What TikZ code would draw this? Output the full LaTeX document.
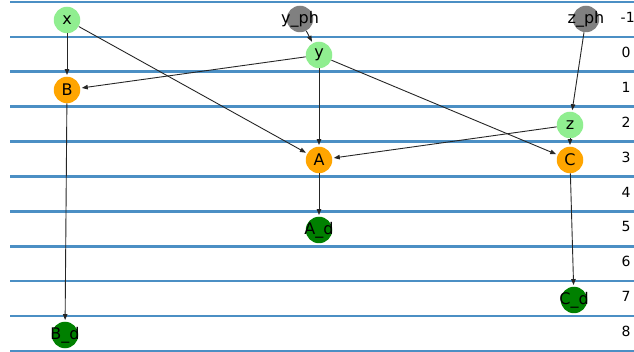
\documentclass[tikz,border=0pt]{standalone}
\usepackage{fontspec}
\setmainfont{DejaVu Sans}
\usetikzlibrary{arrows.meta}
\definecolor{layerblue}{RGB}{75,143,196}
\definecolor{lgreen}{HTML}{90EE90}
\definecolor{morange}{HTML}{FFA500}
\definecolor{mgray}{HTML}{808080}
\definecolor{dgreen}{HTML}{008000}
\newcommand\zwtext[1]{\makebox[0pt]{#1}}
\begin{document}
\begin{tikzpicture}[x=1pt,y=-1pt,
  nd/.style={circle,minimum size=26.5pt,inner sep=0pt,text=black,font=\fontsize{16}{16}\selectfont},
  srcnode/.style={nd,fill=lgreen},
  opnode/.style={nd,fill=morange},
  phnode/.style={nd,fill=mgray},
  outnode/.style={nd,fill=dgreen},
  lab/.style={font=\fontsize{14}{14}\selectfont,inner sep=0pt,anchor=west},
  layer/.style={draw=layerblue,line width=2.6pt},
  edge/.style={-{Triangle[length=6pt,width=4.5pt]},draw=black!85,line width=0.9pt,shorten >=1.5pt}
]
\useasboundingbox (0,0) rectangle (634,352);
\foreach \k in {0,...,10}
  \draw[layer] (10,{2+34.9*\k}) -- (634,{2+34.9*\k});
% layer labels
\node[lab] (lm1) at (620.5,17.5) {-1};
\node[lab] (l0) at (621.5,52.4) {0};
\node[lab] (l1) at (621.5,87.3) {1};
\node[lab] (l2) at (621.5,122.2) {2};
\node[lab] (l3) at (621.5,157.1) {3};
\node[lab] (l4) at (621.5,192.0) {4};
\node[lab] (l5) at (621.5,226.9) {5};
\node[lab] (l6) at (621.5,261.8) {6};
\node[lab] (l7) at (621.5,296.7) {7};
\node[lab] (l8) at (621.5,331.6) {8};
% nodes
\node[srcnode] (x) at (67,20) {\zwtext{x}};
\node[phnode] (yph) at (300,19) {\zwtext{y\_ph}};
\node[phnode] (zph) at (586,19) {\zwtext{z\_ph}};
\node[srcnode] (y) at (319,55) {\zwtext{y}};
\node[opnode] (B) at (67,90) {\zwtext{B}};
\node[srcnode] (z) at (570,125) {\zwtext{z}};
\node[opnode] (A) at (319,160) {\zwtext{A}};
\node[opnode] (C) at (570,160) {\zwtext{C}};
\node[outnode] (Ad) at (319,230) {\zwtext{A\_d}};
\node[outnode] (Cd) at (574,300) {\zwtext{C\_d}};
\node[outnode] (Bd) at (65,335) {\zwtext{B\_d}};
% edges
\draw[edge] (x) -- (B);
\draw[edge] (x) -- (A);
\draw[edge] (yph) -- (y);
\draw[edge] (y) -- (B);
\draw[edge] (y) -- (A);
\draw[edge] (y) -- (C);
\draw[edge] (zph) -- (z);
\draw[edge] (z) -- (A);
\draw[edge] (z) -- (C);
\draw[edge] (B) -- (Bd);
\draw[edge] (A) -- (Ad);
\draw[edge] (C) -- (Cd);
\end{tikzpicture}
\end{document}
